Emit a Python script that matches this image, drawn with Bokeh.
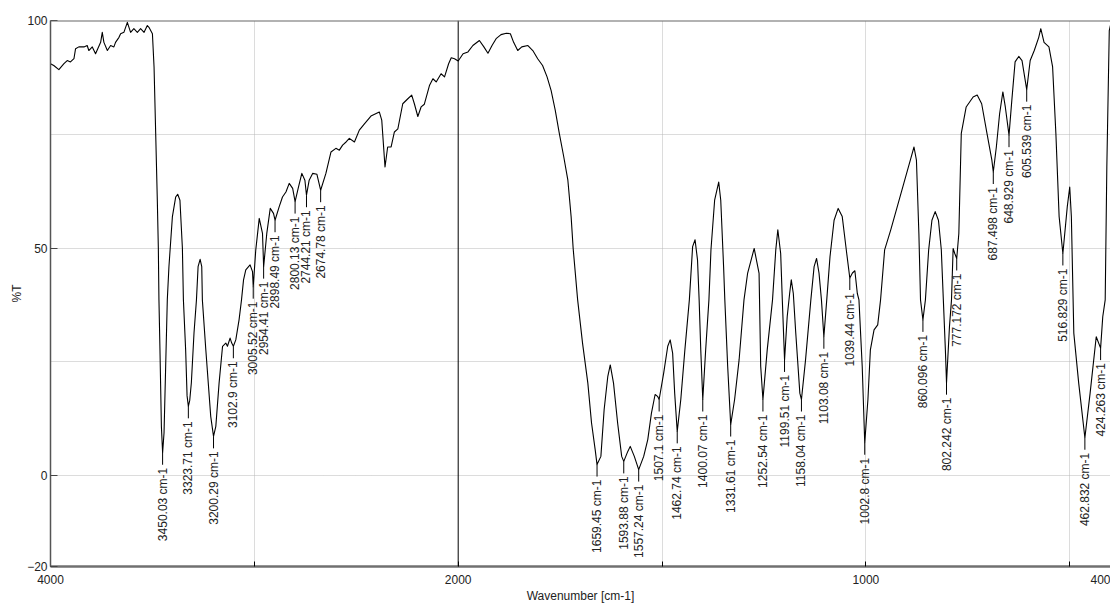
import numpy as np
from bokeh.plotting import figure
from bokeh.models import Range1d, FixedTicker, Span, ColumnDataSource
from bokeh.core.properties import value
from bokeh.embed import file_html
from bokeh.resources import INLINE

# ---- spectrum (wavenumber cm-1, %T) ----
wavenumber = [
    4000, 3984, 3959, 3934, 3918, 3902, 3885, 3877, 3861, 3836, 3820, 3812, 3795, 3779,
    3754, 3746, 3738, 3721, 3705, 3689, 3681, 3664, 3656, 3640, 3623, 3607, 3591, 3574,
    3558, 3541, 3525, 3517, 3500, 3492, 3484, 3476, 3471, 3468, 3463, 3456, 3450.03, 3443,
    3435, 3427, 3419, 3402, 3386, 3376, 3365, 3353, 3348, 3337, 3330, 3323.71, 3317, 3309,
    3296, 3284, 3276, 3266, 3258, 3255, 3238, 3214, 3200.29, 3189, 3173, 3156, 3140, 3132,
    3119, 3111, 3102.9, 3091, 3075, 3063, 3053, 3042, 3021, 3009, 3005.52, 2993, 2976, 2960,
    2954.41, 2939, 2922, 2906, 2898.49, 2878, 2862, 2845, 2829, 2812, 2800.13, 2783, 2767,
    2752, 2744.21, 2731, 2714, 2693, 2674.78, 2649, 2624, 2600, 2583, 2567, 2550, 2534,
    2509, 2485, 2460, 2428, 2387, 2375, 2359, 2346, 2329, 2313, 2296, 2272, 2247, 2228,
    2215, 2198, 2182, 2166, 2141, 2124, 2108, 2084, 2067, 2047, 2034, 2018, 2000,
    1988, 1976, 1964, 1948, 1937, 1927, 1917, 1907, 1895, 1882, 1872, 1864, 1854, 1844,
    1829, 1817, 1805, 1793, 1782, 1772, 1762, 1752, 1741, 1731, 1723, 1718, 1707, 1695,
    1682, 1673, 1664, 1659.45, 1650, 1642, 1633, 1627, 1619, 1609, 1599, 1593.88, 1584,
    1578, 1568, 1557.24, 1545, 1535, 1526, 1517, 1511, 1507.1, 1496, 1486, 1480, 1474,
    1469, 1462.74, 1454, 1444, 1433, 1425, 1419, 1413, 1409, 1405, 1400.07, 1393, 1385,
    1380, 1371, 1361, 1356, 1349, 1346, 1339, 1331.61, 1322, 1311, 1299, 1290, 1274, 1262,
    1258, 1252.54, 1242, 1229, 1221, 1216, 1209, 1205, 1199.51, 1193, 1187, 1183, 1178,
    1172, 1162, 1158.04, 1148, 1135, 1127, 1121, 1115, 1109, 1103.08, 1096, 1088, 1078,
    1068, 1058, 1047, 1039.44, 1033, 1027, 1021, 1017, 1009, 1002.8, 995, 989, 980, 971,
    964, 954, 939, 923, 907, 891, 882, 876, 870, 866, 860.096, 854, 846, 838, 830, 822,
    815, 810, 805, 802.242, 795, 790, 786, 782, 777.172, 772, 766, 754, 737, 727, 716, 703,
    691, 687.498, 680, 672, 664, 658, 648.929, 642, 634, 625, 617, 605.539, 597, 587, 576,
    571, 563, 551, 542, 534, 526, 516.829, 506, 500, 496, 490, 478, 462.832, 450, 435,
    424.263, 419, 413, 409, 403, 400,
]
transmittance = [
    90.5, 90.1, 89.2, 90.5, 91.2, 90.9, 91.6, 93.8, 94.2, 94.2, 94.5, 93.4, 94.2, 92.7,
    95.2, 97.4, 95.2, 93.4, 94.5, 94.2, 95.2, 96.3, 97.1, 97.4, 99.6, 97.4, 98.2, 97.4,
    98.2, 97.4, 98.9, 98.5, 97.1, 89.8, 75.2, 60.5, 50.0, 38.6, 27.6, 10.8, 5.0, 9.4,
    24.0, 38.6, 45.9, 56.9, 61.2, 61.8, 60.5, 50.0, 38.6, 27.6, 17.5, 15.2, 16.5, 20.4,
    31.3, 38.6, 45.9, 47.5, 45.9, 38.6, 27.6, 13.0, 8.6, 10.8, 20.3, 28.4, 29.1, 28.4,
    30.2, 29.1, 28.4, 29.8, 34.2, 38.6, 43.0, 45.2, 46.3, 44.8, 41.5, 49.6, 56.5, 53.2,
    45.9, 53.2, 58.7, 57.6, 56.1, 59.1, 61.2, 62.3, 64.2, 63.1, 60.2, 63.5, 66.4,
    64.9, 61.6, 64.9, 66.4, 66.2, 62.7, 66.4, 71.1, 71.9, 71.5, 72.6, 73.3, 74.1,
    73.3, 75.9, 77.3, 79.0, 79.9, 78.1, 67.8, 72.2, 72.2, 75.5, 76.2, 81.7, 82.8, 83.6,
    81.7, 78.9, 81.0, 81.6, 85.7, 87.2, 86.5, 88.3, 87.6, 90.5, 91.8, 91.6, 91.1,
    92.7, 93.1, 94.5, 95.6, 94.2, 92.8, 94.5, 96.0, 96.9, 97.2, 97.1, 95.2, 93.4, 94.2,
    94.5, 93.4, 91.6, 90.1, 87.6, 84.6, 80.3, 75.2, 70.0, 64.9, 56.9, 49.9, 38.6, 29.1,
    20.3, 11.6, 5.7, 2.4, 4.2, 14.5, 21.8, 24.3, 20.3, 11.6, 4.2, 3.1, 5.3,
    6.4, 4.2, 1.3, 4.2, 7.9, 13.7, 17.8, 17.4, 16.7, 22.5, 28.4, 29.8, 26.9,
    18.1, 9.7, 16.7, 27.6, 38.6, 50.3, 51.8, 47.4, 38.6, 27.6, 16.7, 27.6, 38.6,
    49.6, 60.5, 64.5, 60.5, 45.9, 38.6, 24.0, 11.2, 16.7, 25.4, 38.6, 44.5, 49.9, 44.4,
    24.0, 16.7, 27.6, 38.6, 49.6, 54.0, 48.8, 38.6, 25.4, 34.9, 40.0, 43.0, 40.0,
    31.3, 18.1, 16.7, 25.4, 38.6, 45.9, 47.7, 44.5, 38.6, 30.5, 38.6, 48.1, 56.1,
    58.7, 56.9, 48.8, 43.4, 44.5, 45.0, 40.0, 38.6, 24.0, 7.2, 16.7, 27.6, 32.0, 33.1,
    38.6, 49.6, 54.0, 59.1, 64.2, 69.3, 72.2, 69.3, 53.2, 38.6, 34.2, 38.6, 49.6, 56.1, 58.0, 56.1,
    49.6, 38.6, 27.6, 20.4, 32.7, 38.6, 49.9, 48.8, 47.7, 53.2, 75.2, 81.0, 83.2, 83.6, 81.7, 75.2,
    69.3, 66.7, 72.2, 79.5, 84.3, 81.0, 74.8, 82.5, 90.9, 92.1, 91.2, 84.8, 91.2, 93.4, 96.3,
    98.2, 95.2, 94.2, 89.8, 75.2, 56.9, 48.8, 59.1, 63.4, 56.9, 31.3, 20.3, 8.3, 18.1, 30.5,
    28.0, 34.9, 38.6, 67.8, 97.8, 99.0,
]

# ---- labelled peaks ----
peak_wn = [3450.03, 3323.71, 3200.29, 3102.9, 3005.52, 2954.41, 2898.49, 2800.13, 2744.21,
           2674.78, 1659.45, 1593.88, 1557.24, 1507.1, 1462.74, 1400.07, 1331.61, 1252.54,
           1199.51, 1158.04, 1103.08, 1039.44, 1002.8, 860.096, 802.242, 777.172, 687.498,
           648.929, 605.539, 516.829, 462.832, 424.263]
peak_t = [5.0, 15.2, 8.6, 28.4, 41.5, 45.9, 56.1, 60.2, 61.6, 62.7, 2.4, 3.1, 1.3, 16.7, 9.7,
          16.7, 11.2, 16.7, 25.4, 16.7, 30.5, 43.4, 7.2, 34.2, 20.4, 47.7, 66.7, 74.8, 84.8,
          48.8, 8.3, 28.0]
peak_labels = ["3450.03 cm-1", "3323.71 cm-1", "3200.29 cm-1", "3102.9 cm-1", "3005.52 cm-1",
               "2954.41 cm-1", "2898.49 cm-1", "2800.13 cm-1", "2744.21 cm-1", "2674.78 cm-1",
               "1659.45 cm-1", "1593.88 cm-1", "1557.24 cm-1", "1507.1 cm-1", "1462.74 cm-1",
               "1400.07 cm-1", "1331.61 cm-1", "1252.54 cm-1", "1199.51 cm-1", "1158.04 cm-1",
               "1103.08 cm-1", "1039.44 cm-1", "1002.8 cm-1", "860.096 cm-1", "802.242 cm-1",
               "777.172 cm-1", "687.498 cm-1", "648.929 cm-1", "605.539 cm-1", "516.829 cm-1",
               "462.832 cm-1", "424.263 cm-1"]

x_tick_wn = [4000, 3000, 2000, 1500, 1000, 500, 400]
x_tick_labels = ["4000", "", "2000", "", "1000", "", "400"]
x_grid_wn = [3000, 1500, 1000, 500]
y_ticks = [-20, 0, 50, 100]
y_grid = [0, 25, 50, 75]


def to_axis(wn):
    """Wavenumber axis compressed by half above 2000 cm-1 (scale change)."""
    wn = np.asarray(wn, dtype=float)
    return np.where(wn > 2000, 2000 + (wn - 2000) / 2.0, wn)


FONT_NAME = "Liberation Sans"

p = figure(width=1110, height=606, output_backend="svg", toolbar_location=None,
           x_range=Range1d(float(to_axis(4000)), float(to_axis(400))), y_range=Range1d(-20, 100),
           min_border_left=50, min_border_right=0, min_border_top=20, min_border_bottom=40)
p.outline_line_color = None
p.background_fill_color = "white"
p.border_fill_color = "white"

spec = ColumnDataSource(dict(x=to_axis(wavenumber), y=transmittance))
p.line("x", "y", source=spec, line_color="black", line_width=1.1, line_join="round")

peaks = ColumnDataSource(dict(x=to_axis(peak_wn), y=peak_t, label=peak_labels))
p.ray(x="x", y="y", source=peaks, length=12, length_units="screen", angle=-np.pi / 2,
      line_color="black", line_width=1)
p.text(x="x", y="y", text="label", source=peaks, angle=np.pi / 2, text_align="right",
       text_baseline="middle", y_offset=15, text_font=value(FONT_NAME), text_font_size="12px",
       text_color="#222222")

# scale-break line at 2000 and top frame line
p.add_layout(Span(location=float(to_axis(2000)), dimension="height", line_color="black",
                  line_width=1))
p.add_layout(Span(location=100, dimension="width", line_color="#666666", line_width=2))

xt = [float(v) for v in to_axis(x_tick_wn)]
p.xaxis.ticker = FixedTicker(ticks=xt)
p.xaxis.major_label_overrides = {t: lab for t, lab in zip(xt, x_tick_labels)}
p.xaxis.minor_tick_line_color = None
p.xaxis.major_tick_in = 5
p.xaxis.major_tick_out = 0
p.xaxis.major_tick_line_color = "black"
p.xaxis.axis_line_color = "#707070"
p.xaxis.axis_line_width = 2.5
p.xaxis.axis_label = "Wavenumber [cm-1]"
p.xaxis.axis_label_text_font_style = "normal"
p.xaxis.axis_label_standoff = 2
p.xaxis.major_label_standoff = 8

p.yaxis.ticker = FixedTicker(ticks=y_ticks)
p.yaxis.minor_tick_line_color = None
p.yaxis.major_tick_in = 7
p.yaxis.major_tick_out = 0
p.yaxis.major_tick_line_color = "#444444"
p.yaxis.axis_line_color = "#555555"
p.yaxis.axis_line_width = 1.5
p.yaxis.axis_label = "%T"
p.yaxis.axis_label_text_font_style = "normal"
p.yaxis.axis_label_standoff = 0
p.yaxis.major_label_standoff = 3

for ax in (p.xaxis, p.yaxis):
    ax.major_label_text_font = FONT_NAME
    ax.major_label_text_font_size = "12px"
    ax.major_label_text_color = "#222222"
    ax.axis_label_text_font = FONT_NAME
    ax.axis_label_text_font_size = "12px"
    ax.axis_label_text_color = "#222222"

p.xgrid.ticker = FixedTicker(ticks=[float(v) for v in to_axis(x_grid_wn)])
p.ygrid.ticker = FixedTicker(ticks=y_grid)
for g in (p.xgrid, p.ygrid):
    g.grid_line_color = "#b8b8b8"
    g.grid_line_dash = "1 1"
    g.grid_line_width = 1

open("out.html", "w").write(file_html(p, INLINE))
